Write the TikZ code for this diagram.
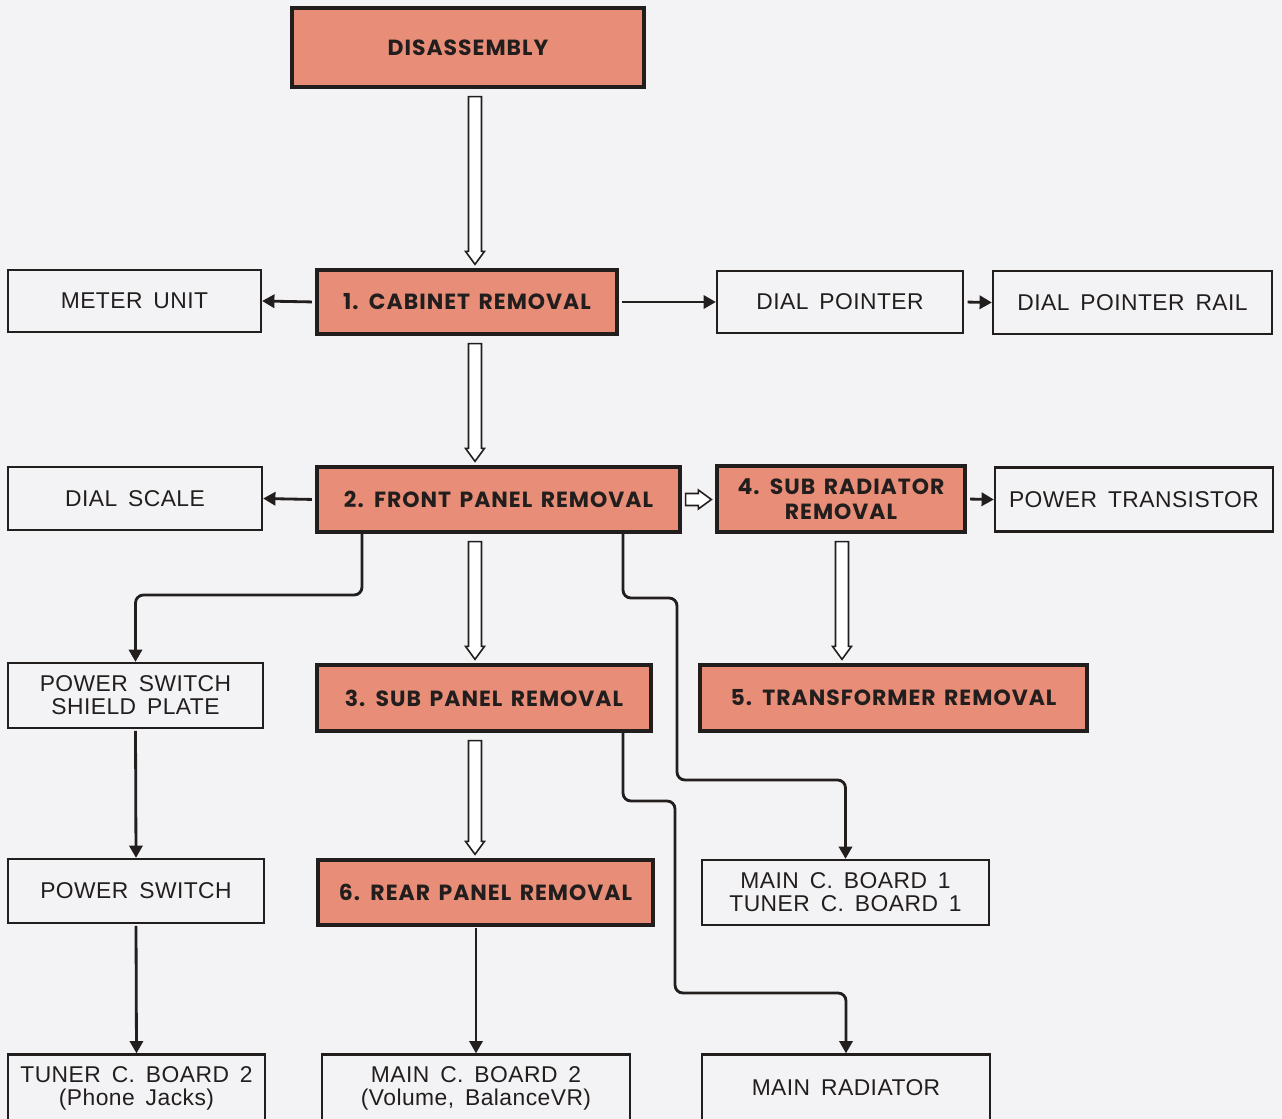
\documentclass[tikz,border=0pt]{standalone}
\usepackage{fontspec}
\setmainfont{Liberation Sans}[LetterSpace=2,WordSpace=1.6]
\newfontfamily\stagefont{Poppins}[LetterSpace=4.5,WordSpace=1.5]
\usetikzlibrary{arrows.meta,calc}

\definecolor{salmon}{RGB}{232,142,120}
\definecolor{paper}{RGB}{243,243,245}
\definecolor{ink}{RGB}{35,30,30}

% hollow block arrows between two stages
\newcommand{\hollowdown}[3]{%
  \draw[hollow] ($(#1.south -| #3)+(-6.5,8)$) -- ($(#1.south -| #3)+(6.5,8)$)
    -- ($(#2.north -| #3)+(6.5,-17)$) -- ($(#2.north -| #3)+(9.5,-17)$)
    -- ($(#2.north -| #3)+(0,-4)$) -- ($(#2.north -| #3)+(-9.5,-17)$)
    -- ($(#2.north -| #3)+(-6.5,-17)$) -- cycle;}
\newcommand{\hollowright}[2]{%
  \draw[hollow] ($(#1.east)+(4,-6)$) -- ($(#2.west |- #1.east)+(-17,-6)$)
    -- ($(#2.west |- #1.east)+(-17,-9.5)$) -- ($(#2.west |- #1.east)+(-4,0)$)
    -- ($(#2.west |- #1.east)+(-17,9.5)$) -- ($(#2.west |- #1.east)+(-17,6)$)
    -- ($(#1.east)+(4,6)$) -- cycle;}

\begin{document}
\begin{tikzpicture}[x=0.02cm,y=-0.02cm,
    part/.style={draw=ink,line width=1.3pt,fill=paper,align=center,inner sep=0pt,text=ink,
      font=\fontsize{13}{13}\selectfont},
    stage/.style={draw=ink,line width=1.9pt,fill=salmon,align=center,inner sep=0pt,text=ink,
      font=\stagefont\bfseries\fontsize{12.5}{14}\selectfont},
    conn/.style={draw=ink,line width=1.6pt,-{Triangle[length=7pt,width=7.5pt]},rounded corners=4.5pt},
    hollow/.style={draw=ink,line width=0.9pt,fill=white,line join=miter}]
  \useasboundingbox (0,0) rectangle (1282,1119);
  \clip (0,0) rectangle (1282,1119);
  \fill[paper] (0,0) rectangle (1282,1119);

  % removal steps
  \node[stage,minimum width=7.04cm,minimum height=1.58cm] (dis) at (468,47.5) {DISASSEMBLY};
  \node[stage,minimum width=6.0cm,minimum height=1.28cm] (cab) at (467,302) {1. CABINET REMOVAL};
  \node[stage,minimum width=7.26cm,minimum height=1.30cm] (front) at (498.5,499.5) {2. FRONT PANEL REMOVAL};
  \node[stage,minimum width=4.96cm,minimum height=1.32cm] (subrad) at (841,499) {4. SUB RADIATOR\\REMOVAL};
  \node[stage,minimum width=6.68cm,minimum height=1.32cm] (subpan) at (484,698) {3. SUB PANEL REMOVAL};
  \node[stage,minimum width=7.74cm,minimum height=1.32cm] (transf) at (893.5,698) {5. TRANSFORMER REMOVAL};
  \node[stage,minimum width=6.70cm,minimum height=1.30cm] (rear) at (485.5,892.5) {6. REAR PANEL REMOVAL};

  % parts
  \node[part,minimum width=5.06cm,minimum height=1.24cm] (meter) at (134.5,301) {METER UNIT};
  \node[part,minimum width=4.92cm,minimum height=1.24cm] (dpoint) at (840,302) {DIAL POINTER};
  \node[part,minimum width=5.58cm,minimum height=1.26cm] (drail) at (1132.5,302.5) {DIAL POINTER RAIL};
  \node[part,minimum width=5.08cm,minimum height=1.26cm] (dscale) at (135,498.5) {DIAL SCALE};
  \node[part,minimum width=5.56cm,minimum height=1.28cm] (ptrans) at (1134,499.5) {POWER TRANSISTOR};
  \node[part,minimum width=5.10cm,minimum height=1.30cm] (shield) at (135.5,695.5) {POWER SWITCH\\SHIELD PLATE};
  \node[part,minimum width=5.12cm,minimum height=1.28cm] (pswitch) at (136,891) {POWER SWITCH};
  \node[part,minimum width=5.74cm,minimum height=1.30cm] (mcb1) at (845.5,892.5) {MAIN C. BOARD 1\\TUNER C. BOARD 1};
  \node[part,minimum width=5.14cm,minimum height=1.34cm] (tcb2) at (136.5,1088) {TUNER C. BOARD 2\\(Phone Jacks)};
  \node[part,minimum width=6.16cm,minimum height=1.34cm] (mcb2) at (476,1088) {MAIN C. BOARD 2\\(Volume, BalanceVR)};
  \node[part,minimum width=5.76cm,minimum height=1.34cm] (mrad) at (846,1088) {MAIN RADIATOR};

  \coordinate (spine) at (475,0);
  \coordinate (spine2) at (842,0);
  \hollowdown{dis}{cab}{spine}
  \hollowdown{cab}{front}{spine}
  \hollowdown{front}{subpan}{spine}
  \hollowdown{subpan}{rear}{spine}
  \hollowdown{subrad}{transf}{spine2}
  \hollowright{front}{subrad}

  \draw[conn,shorten <=2pt] (cab.west) -- (meter.east);
  \draw[conn,shorten <=2pt] (cab.east) -- (dpoint.west);
  \draw[conn,shorten <=2pt] (dpoint.east) -- (drail.west);
  \draw[conn,shorten <=2pt] (front.west) -- (dscale.east);
  \draw[conn,shorten <=2pt] (subrad.east) -- (ptrans.west);
  \draw[conn,shorten <=1pt] (shield.south) -- (pswitch.north);
  \draw[conn,shorten <=1pt] (pswitch.south) -- (tcb2.north);
  \draw[conn,shorten <=1pt] (rear.south -| mcb2.north) -- (mcb2.north);

  % branches
  \coordinate (k1) at (362,595);
  \coordinate (k2) at (623,598);
  \coordinate (k3) at (677,780);
  \coordinate (k4) at (623,801);
  \coordinate (k5) at (675,993);
  \draw[conn] (front.south -| k1) -- (k1) -| (shield.north);
  \draw[conn] (front.south -| k2) -- (k2) -| (k3) -| (mcb1.north);
  \draw[conn] (subpan.south -| k4) -- (k4) -| (k5) -| (mrad.north);
\end{tikzpicture}
\end{document}
